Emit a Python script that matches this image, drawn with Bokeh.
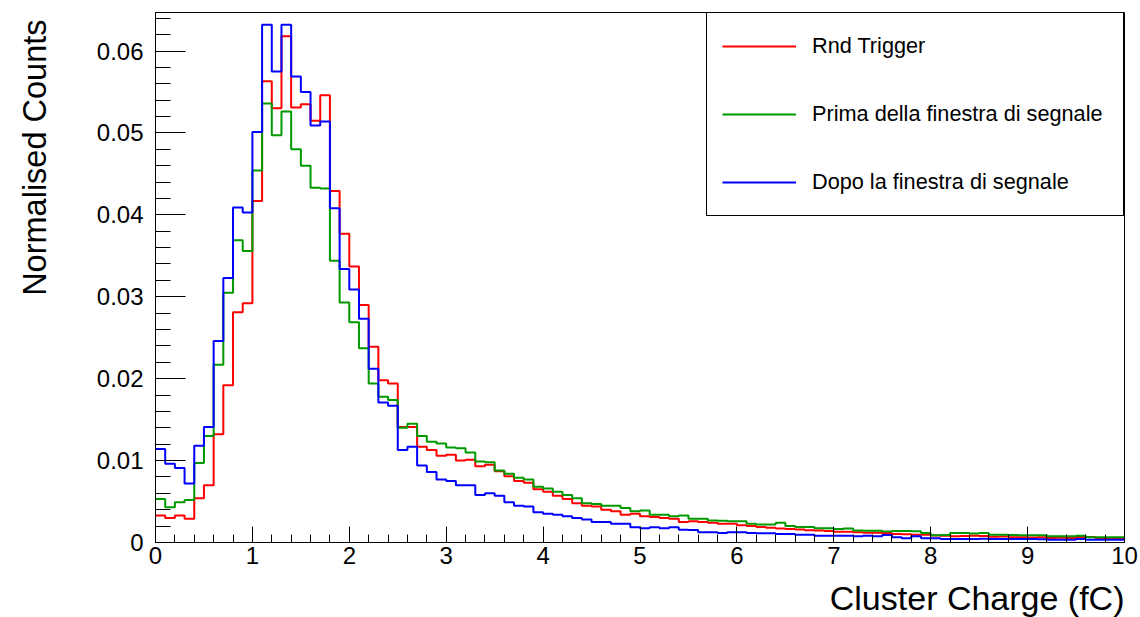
import numpy as np
from bokeh.plotting import figure
from bokeh.models import FixedTicker, Legend, LegendItem, Range1d, Title
from bokeh.embed import file_html
from bokeh.resources import INLINE

# ---- data (100 bins, 0..10 fC, width 0.1) ----
bin_edges = [round(i * 0.1, 1) for i in range(101)]

rnd_trigger = [
    0.0033, 0.0030, 0.0033, 0.0029, 0.0054, 0.0070, 0.0132, 0.0192, 0.0281, 0.0292,
    0.0417, 0.0563, 0.0530, 0.0618, 0.0531, 0.0535, 0.0515, 0.0546, 0.0429, 0.0377,
    0.0337, 0.0290, 0.0239, 0.0198, 0.0194, 0.0141, 0.0141, 0.0117, 0.0113, 0.0106,
    0.0107, 0.0100, 0.0101, 0.0093, 0.0095, 0.0087, 0.0081, 0.0075, 0.0073, 0.0065,
    0.0062, 0.0057, 0.0053, 0.0048, 0.0045, 0.0044, 0.0040, 0.0038, 0.0034, 0.0035,
    0.0032, 0.0031, 0.0030, 0.0029, 0.0025, 0.0026, 0.0025, 0.0024, 0.0023, 0.0023,
    0.0021, 0.0020, 0.0019, 0.0018, 0.0017, 0.00165, 0.0016, 0.0015, 0.00145, 0.0014,
    0.0013, 0.0013, 0.00124, 0.0012, 0.0012, 0.00115, 0.00105, 0.0010, 0.00095, 0.00095,
    0.00085, 0.00082, 0.00075, 0.00078, 0.00083, 0.0008, 0.0007, 0.00072, 0.00063, 0.00065,
    0.00062, 0.00064, 0.00056, 0.00058, 0.00055, 0.00068, 0.00066, 0.0005, 0.00052, 0.0005,
]

prima_finestra = [
    0.0053, 0.0043, 0.0049, 0.0052, 0.0097, 0.0130, 0.0217, 0.0305, 0.0369, 0.0356,
    0.0454, 0.0536, 0.0497, 0.0526, 0.0480, 0.0460, 0.0433, 0.0432, 0.0344, 0.0293,
    0.0269, 0.0237, 0.0194, 0.0178, 0.0174, 0.0140, 0.0145, 0.0130, 0.0123, 0.0121,
    0.0116, 0.0115, 0.0110, 0.0099, 0.0098, 0.0088, 0.0084, 0.0079, 0.0077, 0.0068,
    0.0066, 0.0062, 0.0058, 0.0054, 0.0048, 0.0047, 0.0045, 0.0045, 0.0042, 0.0038,
    0.0039, 0.0034, 0.0034, 0.0032, 0.0033, 0.0029, 0.0029, 0.0027, 0.00265, 0.0026,
    0.0026, 0.0023, 0.0022, 0.0022, 0.0024, 0.0020, 0.0019, 0.0019, 0.00175, 0.00175,
    0.00165, 0.00172, 0.00145, 0.00144, 0.00142, 0.00133, 0.0014, 0.0014, 0.00138, 0.00116,
    0.0009, 0.00092, 0.00116, 0.00115, 0.0011, 0.00116, 0.00095, 0.00095, 0.00092, 0.0009,
    0.0009, 0.0009, 0.00076, 0.00076, 0.00076, 0.00082, 0.00064, 0.00063, 0.00065, 0.00063,
]

dopo_finestra = [
    0.0114, 0.0096, 0.0091, 0.0072, 0.0118, 0.0141, 0.0246, 0.0323, 0.0409, 0.0403,
    0.0501, 0.0632, 0.0575, 0.0632, 0.0569, 0.0550, 0.0509, 0.0514, 0.0408, 0.0334,
    0.0309, 0.0273, 0.0212, 0.0171, 0.0167, 0.0113, 0.0117, 0.0094, 0.0086, 0.0077,
    0.0075, 0.0070, 0.0070, 0.0058, 0.0060, 0.0057, 0.0049, 0.0045, 0.0044, 0.0037,
    0.0035, 0.0034, 0.0032, 0.0030, 0.0028, 0.0025, 0.0025, 0.0023, 0.0023, 0.00185,
    0.00173, 0.00185, 0.00173, 0.00185, 0.00157, 0.00152, 0.00124, 0.00124, 0.00116, 0.00124,
    0.00124, 0.00116, 0.00112, 0.00112, 0.00104, 0.00104, 0.00095, 0.00095, 0.00083, 0.00083,
    0.00083, 0.00083, 0.00075, 0.00083, 0.00075, 0.00091, 0.00063, 0.00051, 0.00075, 0.00051,
    0.00051, 0.00043, 0.00043, 0.00043, 0.00043, 0.00045, 0.00042, 0.00043, 0.00044, 0.00042,
    0.00043, 0.00041, 0.00035, 0.00035, 0.00035, 0.00043, 0.00035, 0.00035, 0.00035, 0.00035,
]

series_names = ["Rnd Trigger", "Prima della finestra di segnale", "Dopo la finestra di segnale"]
series_values = [rnd_trigger, prima_finestra, dopo_finestra]
series_colors = ["#ff0000", "#009900", "#0000ff"]

x_ticks = list(range(11))
x_minor_ticks = [round(i * 0.2, 1) for i in range(51)]
y_ticks = [0.0, 0.01, 0.02, 0.03, 0.04, 0.05, 0.06]
y_tick_labels = ["0", "0.01", "0.02", "0.03", "0.04", "0.05", "0.06"]
y_minor_ticks = [round(i * 0.002, 3) for i in range(33)]

x_title = "Cluster Charge (fC)"
y_title = "Normalised Counts"

FONT = "Liberation Sans"

p = figure(
    width=1140, height=617,
    output_backend="svg", toolbar_location=None,
    x_range=Range1d(0, 10), y_range=Range1d(0, 0.0647),
    min_border_left=155, min_border_right=16,
    min_border_top=12, min_border_bottom=74,
)
p.background_fill_color = "white"
p.border_fill_color = "white"
p.outline_line_color = "black"
p.outline_line_width = 1
p.outline_line_alpha = 1.0
p.xgrid.visible = False
p.ygrid.visible = False

# axes, ROOT-like inward ticks
p.xaxis.ticker = FixedTicker(ticks=x_ticks, minor_ticks=x_minor_ticks)
p.yaxis.ticker = FixedTicker(ticks=y_ticks, minor_ticks=y_minor_ticks)
p.yaxis.major_label_overrides = {t: l for t, l in zip(y_ticks, y_tick_labels)}

for ax in (p.xaxis[0], p.yaxis[0]):
    ax.axis_line_color = "black"
    ax.major_tick_line_color = "black"
    ax.minor_tick_line_color = "black"
    ax.major_tick_out = 0
    ax.minor_tick_out = 0
    ax.major_label_text_font = FONT
    ax.major_label_text_font_size = "24px"
    ax.major_label_text_color = "black"
    # blank spacer label: pushes the (right/top aligned) titles outward
    ax.axis_label = " "
    ax.axis_label_text_font_size = "1px"

p.xaxis.major_tick_in = 16
p.xaxis.minor_tick_in = 8
p.xaxis.major_label_standoff = 4
p.xaxis.axis_label_standoff = 5
p.yaxis.major_tick_in = 30
p.yaxis.minor_tick_in = 15
p.yaxis.major_label_standoff = 12
p.yaxis.axis_label_standoff = 36

# histograms as steps
renderers = []
for vals, col in zip(series_values, series_colors):
    r = p.step(x=bin_edges, y=list(vals) + [vals[-1]], mode="after",
               line_color=col, line_width=2)
    renderers.append(r)

legend_items = [LegendItem(label=name, renderers=[r])
                for name, r in zip(series_names, renderers)]

legend = Legend(
    items=legend_items, location="top_right", margin=0,
    padding=15, spacing=32, label_height=36, glyph_height=36,
    glyph_width=74, label_standoff=16, label_width=296,
    border_line_color="black", border_line_width=1, border_line_alpha=1.0,
    label_text_font=FONT, label_text_font_size="21.7px", label_text_color="black",
    background_fill_color="white", background_fill_alpha=1.0,
)
p.add_layout(legend)

# axis titles (right/top aligned as in ROOT)
x_title_obj = Title(text=x_title, align="right", text_font=FONT,
                    text_font_size="34px", text_font_style="normal",
                    text_color="black", standoff=2)
p.add_layout(x_title_obj, "below")
y_title_obj = Title(text=y_title, align="right", text_font=FONT,
                    text_font_size="32.5px", text_font_style="normal",
                    text_color="black", standoff=2, offset=7)
p.add_layout(y_title_obj, "left")

open("out.html", "w").write(file_html(p, INLINE))
